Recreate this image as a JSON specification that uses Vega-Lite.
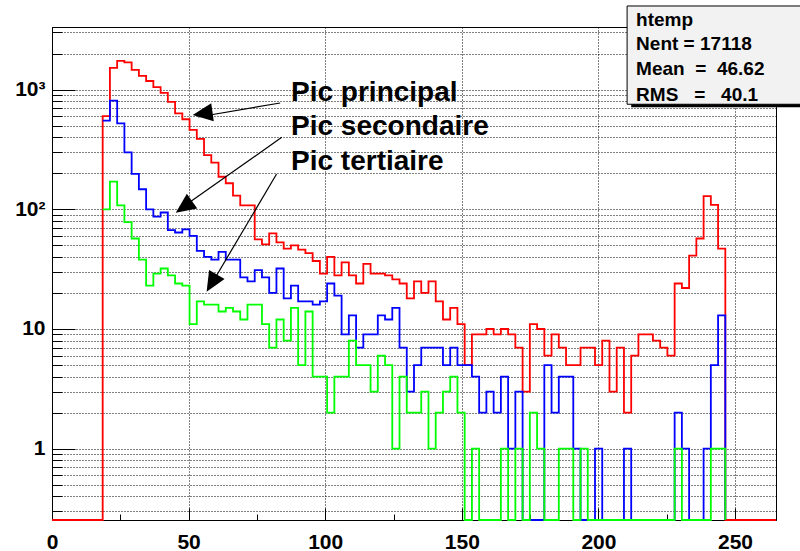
{
  "$schema": "https://vega.github.io/schema/vega-lite/v6.json",
  "width": 724,
  "height": 493,
  "autosize": {"type": "none"},
  "padding": {"left": 52, "top": 27, "right": 24, "bottom": 31},
  "background": "white",
  "config": {"view": {"stroke": "black", "strokeWidth": 1}, "font": "Liberation Sans"},
  "datasets": {
    "red": [
      {"x": 0, "n": 0}, {"x": 2.65, "n": 0}, {"x": 5.3, "n": 0}, {"x": 7.95, "n": 0}, {"x": 10.6, "n": 0}, {"x": 13.25, "n": 0}, {"x": 15.9, "n": 0},
      {"x": 18.55, "n": 600}, {"x": 21.2, "n": 1520}, {"x": 23.85, "n": 1740}, {"x": 26.5, "n": 1690}, {"x": 29.15, "n": 1460},
      {"x": 31.8, "n": 1300}, {"x": 34.45, "n": 1180}, {"x": 37.1, "n": 1050}, {"x": 39.75, "n": 940}, {"x": 42.4, "n": 790},
      {"x": 45.05, "n": 634}, {"x": 47.7, "n": 565}, {"x": 50.35, "n": 460}, {"x": 53, "n": 387}, {"x": 55.65, "n": 283},
      {"x": 58.3, "n": 245}, {"x": 60.95, "n": 187}, {"x": 63.6, "n": 165}, {"x": 66.25, "n": 130}, {"x": 68.9, "n": 108},
      {"x": 71.55, "n": 108}, {"x": 74.2, "n": 56}, {"x": 76.85, "n": 51}, {"x": 79.5, "n": 63}, {"x": 82.15, "n": 53},
      {"x": 84.8, "n": 47}, {"x": 87.45, "n": 50}, {"x": 90.1, "n": 46}, {"x": 92.75, "n": 43}, {"x": 95.4, "n": 37},
      {"x": 98.05, "n": 29}, {"x": 100.7, "n": 40}, {"x": 103.35, "n": 28}, {"x": 106, "n": 36}, {"x": 108.65, "n": 28},
      {"x": 111.3, "n": 24}, {"x": 113.95, "n": 35}, {"x": 116.6, "n": 29}, {"x": 119.25, "n": 29}, {"x": 121.9, "n": 28},
      {"x": 124.55, "n": 26}, {"x": 127.2, "n": 24}, {"x": 129.85, "n": 18}, {"x": 132.5, "n": 25}, {"x": 135.15, "n": 20},
      {"x": 137.8, "n": 25}, {"x": 140.45, "n": 17}, {"x": 143.1, "n": 12}, {"x": 145.75, "n": 15}, {"x": 148.4, "n": 11},
      {"x": 151.05, "n": 5}, {"x": 153.7, "n": 9}, {"x": 156.35, "n": 9}, {"x": 159, "n": 10}, {"x": 161.65, "n": 9},
      {"x": 164.3, "n": 10}, {"x": 166.95, "n": 9}, {"x": 169.6, "n": 7}, {"x": 172.25, "n": 3}, {"x": 174.9, "n": 11},
      {"x": 177.55, "n": 10}, {"x": 180.2, "n": 6}, {"x": 182.85, "n": 9}, {"x": 185.5, "n": 7}, {"x": 188.15, "n": 5},
      {"x": 190.8, "n": 5}, {"x": 193.45, "n": 7}, {"x": 196.1, "n": 7}, {"x": 198.75, "n": 5}, {"x": 201.4, "n": 8},
      {"x": 204.05, "n": 3}, {"x": 206.7, "n": 7}, {"x": 209.35, "n": 2}, {"x": 212, "n": 6}, {"x": 214.65, "n": 9},
      {"x": 217.3, "n": 9}, {"x": 219.95, "n": 8}, {"x": 222.6, "n": 7}, {"x": 225.25, "n": 6}, {"x": 227.9, "n": 24},
      {"x": 230.55, "n": 22}, {"x": 233.2, "n": 41}, {"x": 235.85, "n": 57}, {"x": 238.5, "n": 129}, {"x": 241.15, "n": 109},
      {"x": 243.8, "n": 47}, {"x": 246.45, "n": 0}, {"x": 249.1, "n": 0}, {"x": 251.75, "n": 0}, {"x": 254.4, "n": 0},
      {"x": 257.05, "n": 0}, {"x": 259.7, "n": 0}, {"x": 262.35, "n": 0}, {"x": 265, "n": 0}
    ],
    "blue": [
      {"x": 18.55, "n": 550}, {"x": 21.2, "n": 808}, {"x": 23.85, "n": 523}, {"x": 26.5, "n": 299}, {"x": 29.15, "n": 198},
      {"x": 31.8, "n": 147}, {"x": 34.45, "n": 100}, {"x": 37.1, "n": 87}, {"x": 39.75, "n": 94}, {"x": 42.4, "n": 67},
      {"x": 45.05, "n": 64}, {"x": 47.7, "n": 68}, {"x": 50.35, "n": 60}, {"x": 53, "n": 45}, {"x": 55.65, "n": 40},
      {"x": 58.3, "n": 38}, {"x": 60.95, "n": 44}, {"x": 63.6, "n": 38}, {"x": 66.25, "n": 38}, {"x": 68.9, "n": 27},
      {"x": 71.55, "n": 25}, {"x": 74.2, "n": 31}, {"x": 76.85, "n": 27}, {"x": 79.5, "n": 20}, {"x": 82.15, "n": 32},
      {"x": 84.8, "n": 18}, {"x": 87.45, "n": 23}, {"x": 90.1, "n": 17}, {"x": 92.75, "n": 17}, {"x": 95.4, "n": 16},
      {"x": 98.05, "n": 17}, {"x": 100.7, "n": 24}, {"x": 103.35, "n": 19}, {"x": 106, "n": 9}, {"x": 108.65, "n": 13},
      {"x": 111.3, "n": 7}, {"x": 113.95, "n": 9}, {"x": 116.6, "n": 9}, {"x": 119.25, "n": 13}, {"x": 121.9, "n": 12},
      {"x": 124.55, "n": 15}, {"x": 127.2, "n": 7}, {"x": 129.85, "n": 3}, {"x": 132.5, "n": 5}, {"x": 135.15, "n": 7},
      {"x": 137.8, "n": 7}, {"x": 140.45, "n": 7}, {"x": 143.1, "n": 5}, {"x": 145.75, "n": 7}, {"x": 148.4, "n": 5},
      {"x": 151.05, "n": 5}, {"x": 153.7, "n": 4}, {"x": 156.35, "n": 2}, {"x": 159, "n": 3}, {"x": 161.65, "n": 2},
      {"x": 164.3, "n": 4}, {"x": 166.95, "n": 1}, {"x": 169.6, "n": 3}, {"x": 172.25, "n": 0}, {"x": 174.9, "n": 0},
      {"x": 177.55, "n": 0}, {"x": 180.2, "n": 5}, {"x": 182.85, "n": 2}, {"x": 185.5, "n": 4}, {"x": 188.15, "n": 4},
      {"x": 190.8, "n": 1}, {"x": 193.45, "n": 0}, {"x": 196.1, "n": 0}, {"x": 198.75, "n": 1}, {"x": 201.4, "n": 0},
      {"x": 204.05, "n": 0}, {"x": 206.7, "n": 0}, {"x": 209.35, "n": 1}, {"x": 212, "n": 0}, {"x": 214.65, "n": 0},
      {"x": 217.3, "n": 0}, {"x": 219.95, "n": 0}, {"x": 222.6, "n": 0}, {"x": 225.25, "n": 0}, {"x": 227.9, "n": 2},
      {"x": 230.55, "n": 1}, {"x": 233.2, "n": 0}, {"x": 235.85, "n": 0}, {"x": 238.5, "n": 1}, {"x": 241.15, "n": 5},
      {"x": 243.8, "n": 13}, {"x": 246.45, "n": 0}
    ],
    "green": [
      {"x": 18.55, "n": 100}, {"x": 21.2, "n": 170}, {"x": 23.85, "n": 108}, {"x": 26.5, "n": 78}, {"x": 29.15, "n": 57},
      {"x": 31.8, "n": 38}, {"x": 34.45, "n": 23}, {"x": 37.1, "n": 29}, {"x": 39.75, "n": 32}, {"x": 42.4, "n": 28},
      {"x": 45.05, "n": 24}, {"x": 47.7, "n": 23}, {"x": 50.35, "n": 11}, {"x": 53, "n": 17}, {"x": 55.65, "n": 16},
      {"x": 58.3, "n": 16}, {"x": 60.95, "n": 14}, {"x": 63.6, "n": 15}, {"x": 66.25, "n": 14}, {"x": 68.9, "n": 12},
      {"x": 71.55, "n": 16}, {"x": 74.2, "n": 16}, {"x": 76.85, "n": 11}, {"x": 79.5, "n": 7}, {"x": 82.15, "n": 12},
      {"x": 84.8, "n": 8}, {"x": 87.45, "n": 15}, {"x": 90.1, "n": 5}, {"x": 92.75, "n": 14}, {"x": 95.4, "n": 4},
      {"x": 98.05, "n": 4}, {"x": 100.7, "n": 2}, {"x": 103.35, "n": 4}, {"x": 106, "n": 4}, {"x": 108.65, "n": 8},
      {"x": 111.3, "n": 5}, {"x": 113.95, "n": 5}, {"x": 116.6, "n": 3}, {"x": 119.25, "n": 6}, {"x": 121.9, "n": 5},
      {"x": 124.55, "n": 1}, {"x": 127.2, "n": 4}, {"x": 129.85, "n": 2}, {"x": 132.5, "n": 2}, {"x": 135.15, "n": 3},
      {"x": 137.8, "n": 1}, {"x": 140.45, "n": 2}, {"x": 143.1, "n": 3}, {"x": 145.75, "n": 4}, {"x": 148.4, "n": 2},
      {"x": 151.05, "n": 0}, {"x": 153.7, "n": 1}, {"x": 156.35, "n": 0}, {"x": 159, "n": 0}, {"x": 161.65, "n": 0},
      {"x": 164.3, "n": 1}, {"x": 166.95, "n": 0}, {"x": 169.6, "n": 1}, {"x": 172.25, "n": 0}, {"x": 174.9, "n": 2},
      {"x": 177.55, "n": 1}, {"x": 180.2, "n": 0}, {"x": 182.85, "n": 0}, {"x": 185.5, "n": 1}, {"x": 188.15, "n": 1},
      {"x": 190.8, "n": 0}, {"x": 193.45, "n": 1}, {"x": 196.1, "n": 0}, {"x": 198.75, "n": 0}, {"x": 201.4, "n": 0},
      {"x": 204.05, "n": 0}, {"x": 206.7, "n": 0}, {"x": 209.35, "n": 0}, {"x": 212, "n": 0}, {"x": 214.65, "n": 0},
      {"x": 217.3, "n": 0}, {"x": 219.95, "n": 0}, {"x": 222.6, "n": 0}, {"x": 225.25, "n": 0}, {"x": 227.9, "n": 1},
      {"x": 230.55, "n": 0}, {"x": 233.2, "n": 0}, {"x": 235.85, "n": 0}, {"x": 238.5, "n": 0}, {"x": 241.15, "n": 1},
      {"x": 243.8, "n": 1}, {"x": 246.45, "n": 0}
    ],
    "arrows": [
      {"x": 83.5, "y": 773, "x2": 53.5, "y2": 590},
      {"x": 84.1, "y": 399, "x2": 47.5, "y2": 103},
      {"x": 82.2, "y": 197, "x2": 58.5, "y2": 24}
    ],
    "labels": [
      {"x": 87.5, "y": 803, "t": "Pic principal"},
      {"x": 87.5, "y": 416, "t": "Pic secondaire"},
      {"x": 87.5, "y": 213, "t": "Pic tertiaire"}
    ],
    "box": [{"x": 210.5, "x2": 280, "y": 4993, "y2": 754}],
    "shadow": [{"x": 212, "x2": 282, "y": 4698, "y2": 712}],
    "stats": [
      {"x": 213.8, "y": 3398, "t": "htemp"},
      {"x": 213.8, "y": 2142, "t": "Nent = 17118"},
      {"x": 213.8, "y": 1324, "t": "Mean\u00a0\u00a0=\u00a0\u00a046.62"},
      {"x": 213.8, "y": 808, "t": "RMS\u00a0\u00a0\u00a0=\u00a0\u00a0\u00a040.1"}
    ]
  },
  "resolve": {"scale": {"x": "independent", "y": "independent"}},
  "layer": [
    {
      "resolve": {"scale": {"x": "independent", "y": "independent"}},
      "layer": [
        {
          "data": {"name": "red"},
          "mark": {"type": "line", "interpolate": "step-after", "color": "#ff0000", "strokeWidth": 1.8},
          "encoding": {
            "x": {
              "field": "x", "type": "quantitative",
              "scale": {"domain": [0, 265], "nice": false, "zero": false},
              "axis": {
                "orient": "bottom", "title": null,
                "values": [0, 50, 100, 150, 200, 250],
                "grid": true, "gridColor": "black", "gridDash": [1, 2], "gridWidth": 1, "gridOpacity": 1,
                "ticks": true, "tickColor": "black", "tickWidth": 1, "tickSize": -12,
                "domain": true, "domainColor": "black", "domainWidth": 1,
                "labelFont": "Liberation Sans", "labelFontWeight": "bold", "labelFontSize": 21, "labelColor": "black",
                "labelPadding": 23, "labelFlush": false, "labelOverlap": false, "labelBound": false
              }
            },
            "y": {
              "field": "n", "type": "quantitative",
              "scale": {"type": "log", "domain": [0.2537, 3333], "nice": false, "clamp": true},
              "axis": {
                "orient": "left", "title": null,
                "values": [0.3, 0.4, 0.5, 0.6, 0.7, 0.8, 0.9, 1, 2, 3, 4, 5, 6, 7, 8, 9, 10, 20, 30, 40, 50, 60, 70, 80, 90, 100, 200, 300, 400, 500, 600, 700, 800, 900, 1000, 2000, 3000],
                "grid": true, "gridColor": "black", "gridDash": [1, 2], "gridWidth": 1, "gridOpacity": 1,
                "ticks": true, "tickColor": "black", "tickWidth": 1, "tickSize": -10,
                "domain": true, "domainColor": "black", "domainWidth": 1,
                "labelExpr": "datum.value === 1 ? '1' : datum.value === 10 ? '10' : datum.value === 100 ? '10²' : datum.value === 1000 ? '10³' : ''",
                "labelFont": "Liberation Sans", "labelFontWeight": "bold", "labelFontSize": 21, "labelColor": "black",
                "labelPadding": 17, "labelOverlap": false, "labelBound": false, "labelFlush": false
              }
            }
          }
        },
        {
          "data": {"name": "blue"},
          "mark": {"type": "line", "interpolate": "step-after", "color": "#0000ff", "strokeWidth": 1.8},
          "encoding": {
            "x": {
              "field": "x", "type": "quantitative",
              "scale": {"domain": [0, 265], "nice": false, "zero": false},
              "axis": {
                "orient": "bottom", "title": null, "values": [25, 75, 125, 175, 225],
                "grid": false, "domain": false, "labels": false,
                "ticks": true, "tickColor": "black", "tickWidth": 1, "tickSize": -6
              }
            },
            "y": {
              "field": "n", "type": "quantitative",
              "scale": {"type": "log", "domain": [0.2537, 3333], "nice": false, "clamp": true},
              "axis": {
                "orient": "left", "title": null, "values": [1, 10, 100, 1000],
                "grid": false, "domain": false, "labels": false,
                "ticks": true, "tickColor": "black", "tickWidth": 1, "tickSize": -23
              }
            }
          }
        },
        {
          "data": {"name": "green"},
          "mark": {"type": "line", "interpolate": "step-after", "color": "#00ff00", "strokeWidth": 1.8},
          "encoding": {
            "x": {"field": "x", "type": "quantitative", "scale": {"domain": [0, 265], "nice": false, "zero": false}, "axis": null},
            "y": {"field": "n", "type": "quantitative", "scale": {"type": "log", "domain": [0.2537, 3333], "nice": false, "clamp": true}, "axis": null}
          }
        },
        {
          "data": {"name": "arrows"},
          "mark": {"type": "rule", "color": "black", "strokeWidth": 1.2},
          "encoding": {
            "x": {"field": "x", "type": "quantitative", "scale": {"domain": [0, 265], "nice": false, "zero": false}, "axis": null},
            "y": {"field": "y", "type": "quantitative", "scale": {"type": "log", "domain": [0.2537, 3333], "nice": false, "clamp": true}, "axis": null},
            "x2": {"field": "x2"},
            "y2": {"field": "y2"}
          }
        },
        {
          "data": {"values": [{"x": 51.5, "y": 613}]},
          "mark": {"type": "point", "shape": "M0,0L-0.9,2L0.9,2Z", "size": 400, "filled": true, "color": "black", "opacity": 1, "angle": 262},
          "encoding": {
            "x": {"field": "x", "type": "quantitative", "scale": {"domain": [0, 265], "nice": false, "zero": false}, "axis": null},
            "y": {"field": "y", "type": "quantitative", "scale": {"type": "log", "domain": [0.2537, 3333], "nice": false, "clamp": true}, "axis": null}
          }
        },
        {
          "data": {"values": [{"x": 45.3, "y": 93.7}]},
          "mark": {"type": "point", "shape": "M0,0L-0.9,2L0.9,2Z", "size": 400, "filled": true, "color": "black", "opacity": 1, "angle": 234.6},
          "encoding": {
            "x": {"field": "x", "type": "quantitative", "scale": {"domain": [0, 265], "nice": false, "zero": false}, "axis": null},
            "y": {"field": "y", "type": "quantitative", "scale": {"type": "log", "domain": [0.2537, 3333], "nice": false, "clamp": true}, "axis": null}
          }
        },
        {
          "data": {"values": [{"x": 56.6, "y": 20.5}]},
          "mark": {"type": "point", "shape": "M0,0L-0.9,2L0.9,2Z", "size": 400, "filled": true, "color": "black", "opacity": 1, "angle": 210.7},
          "encoding": {
            "x": {"field": "x", "type": "quantitative", "scale": {"domain": [0, 265], "nice": false, "zero": false}, "axis": null},
            "y": {"field": "y", "type": "quantitative", "scale": {"type": "log", "domain": [0.2537, 3333], "nice": false, "clamp": true}, "axis": null}
          }
        },
        {
          "data": {"name": "labels"},
          "mark": {"type": "text", "align": "left", "baseline": "alphabetic", "font": "Liberation Sans", "fontWeight": "bold", "fontSize": 28, "color": "black"},
          "encoding": {
            "x": {"field": "x", "type": "quantitative", "scale": {"domain": [0, 265], "nice": false, "zero": false}, "axis": null},
            "y": {"field": "y", "type": "quantitative", "scale": {"type": "log", "domain": [0.2537, 3333], "nice": false, "clamp": true}, "axis": null},
            "text": {"field": "t"}
          }
        }
      ]
    },
    {
      "layer": [
        {
          "data": {"name": "shadow"},
          "mark": {"type": "rect", "color": "black"},
          "encoding": {
            "x": {"field": "x", "type": "quantitative", "scale": {"domain": [0, 265], "nice": false, "zero": false}, "axis": null},
            "x2": {"field": "x2"},
            "y": {"field": "y", "type": "quantitative", "scale": {"type": "log", "domain": [0.2537, 3333], "nice": false}, "axis": null},
            "y2": {"field": "y2"}
          }
        },
        {
          "data": {"name": "box"},
          "mark": {"type": "rect", "fill": "#f2f2f2", "stroke": "black", "strokeWidth": 1},
          "encoding": {
            "x": {"field": "x", "type": "quantitative", "scale": {"domain": [0, 265], "nice": false, "zero": false}, "axis": null},
            "x2": {"field": "x2"},
            "y": {"field": "y", "type": "quantitative", "scale": {"type": "log", "domain": [0.2537, 3333], "nice": false}, "axis": null},
            "y2": {"field": "y2"}
          }
        },
        {
          "data": {"name": "stats"},
          "mark": {"type": "text", "align": "left", "baseline": "alphabetic", "font": "Liberation Sans", "fontWeight": "bold", "fontSize": 19, "color": "black"},
          "encoding": {
            "x": {"field": "x", "type": "quantitative", "scale": {"domain": [0, 265], "nice": false, "zero": false}, "axis": null},
            "y": {"field": "y", "type": "quantitative", "scale": {"type": "log", "domain": [0.2537, 3333], "nice": false}, "axis": null},
            "text": {"field": "t"}
          }
        }
      ]
    }
  ]
}
